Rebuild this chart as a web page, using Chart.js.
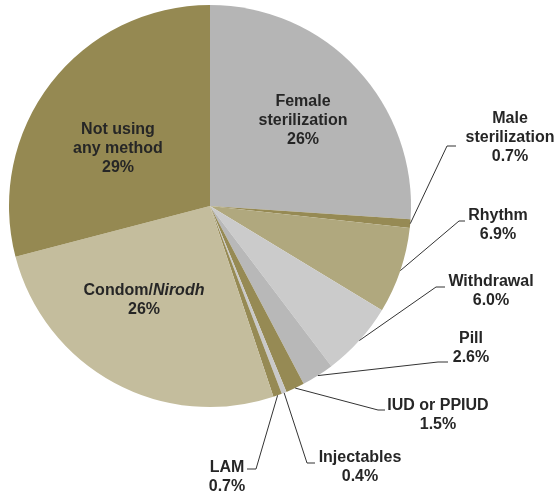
<!DOCTYPE html>
<html>
<head>
<meta charset="utf-8">
<script src="https://cdn.jsdelivr.net/npm/chart.js@4.4.1/dist/chart.umd.min.js"></script>
<style>
    html, body { margin: 0; padding: 0; background: #fff; }
    #wrap { width: 557px; height: 493px; position: relative; }
</style>
</head>
<body>
<div id="wrap"><canvas id="pieChart" width="557" height="493"></canvas></div>
<script>
// Dados do gráfico (ordem no sentido horário, a partir do topo)
const categories = ['Female sterilization', 'Male sterilization', 'Rhythm', 'Withdrawal', 'Pill',
    'IUD or PPIUD', 'Injectables', 'LAM', 'Condom/*Nirodh*', 'Not using any method'];
const shares = [26, 0.7, 6.9, 6.0, 2.6, 1.5, 0.4, 0.7, 26, 29];
const sliceColors = ['#b5b5b5', '#968a54', '#b0a87e', '#cbcbcb', '#b8b8b8',
    '#968a54', '#c9c9c9', '#968a54', '#c4bd9d', '#958952'];

// Posição dos rótulos (linhas de texto, e pontos da linha de chamada quando externo)
const labelLayout = [
    { lines: ['Female', 'sterilization'], x: 303, y: 102 },
    { lines: ['Male', 'sterilization'], x: 510, y: 119, elbow: [447, 146], end: [456, 146] },
    { lines: ['Rhythm'], x: 498, y: 216, elbow: [459, 221], end: [465, 221] },
    { lines: ['Withdrawal'], x: 491, y: 282, elbow: [436, 287], end: [445, 287] },
    { lines: ['Pill'], x: 471, y: 339, elbow: [438, 362], end: [448, 362] },
    { lines: ['IUD or PPIUD'], x: 438, y: 406, elbow: [378, 410], end: [385, 410] },
    { lines: ['Injectables'], x: 360, y: 458, elbow: [307, 463], end: [315, 463] },
    { lines: ['LAM'], x: 227, y: 468, elbow: [256, 469], end: [247, 469] },
    { lines: ['Condom/*Nirodh*'], x: 144, y: 291 },
    { lines: ['Not using', 'any method'], x: 118, y: 130 }
];

function formatPct(v) {
    return (v >= 10 ? v.toFixed(0) : v.toFixed(1)) + '%';
}

// Desenha uma linha com trechos em itálico marcados com *...*
function drawRich(ctx, text, cx, y) {
    const parts = text.split('*').map((t, i) => ({ t: t, italic: i % 2 === 1 })).filter(p => p.t);
    const fontFor = p => (p.italic ? 'italic ' : '') + 'bold 16px "Liberation Sans", Arial, sans-serif';
    let total = 0;
    parts.forEach(p => { ctx.font = fontFor(p); p.w = ctx.measureText(p.t).width; total += p.w; });
    let x = cx - total / 2;
    parts.forEach(p => {
        ctx.font = fontFor(p);
        ctx.textAlign = 'left';
        ctx.fillText(p.t, x, y);
        x += p.w;
    });
}

const labelPlugin = {
    id: 'pieLabels',
    afterDatasetsDraw(chart) {
        const ctx = chart.ctx;
        const arcs = chart.getDatasetMeta(0).data;
        ctx.save();
        ctx.fillStyle = '#262626';
        ctx.strokeStyle = '#333333';
        ctx.lineWidth = 1;
        ctx.textBaseline = 'middle';
        arcs.forEach((arc, i) => {
            const lay = labelLayout[i];
            if (lay.elbow) {
                const mid = (arc.startAngle + arc.endAngle) / 2;
                const sx = arc.x + Math.cos(mid) * arc.outerRadius;
                const sy = arc.y + Math.sin(mid) * arc.outerRadius;
                ctx.beginPath();
                ctx.moveTo(sx, sy);
                ctx.lineTo(lay.elbow[0], lay.elbow[1]);
                ctx.lineTo(lay.end[0], lay.end[1]);
                ctx.stroke();
            }
            const lines = lay.lines.concat([formatPct(shares[i])]);
            lines.forEach((ln, k) => drawRich(ctx, ln, lay.x, lay.y + k * 19));
        });
        ctx.restore();
    }
};

document.addEventListener('DOMContentLoaded', function() {
    const ctx = document.getElementById('pieChart').getContext('2d');
    const pieChart = new Chart(ctx, {
        type: 'pie',
        data: {
            labels: categories.map(c => c.replace(/\*/g, '')),
            datasets: [{
                data: shares,
                backgroundColor: sliceColors,
                borderWidth: 0,
                hoverOffset: 0
            }]
        },
        options: {
            responsive: false,
            animation: false,
            layout: {
                padding: { left: 9, top: 5, right: 146, bottom: 86 }
            },
            plugins: {
                legend: { display: false },
                tooltip: { enabled: false }
            }
        },
        plugins: [labelPlugin]
    });
});
</script>
</body>
</html>
